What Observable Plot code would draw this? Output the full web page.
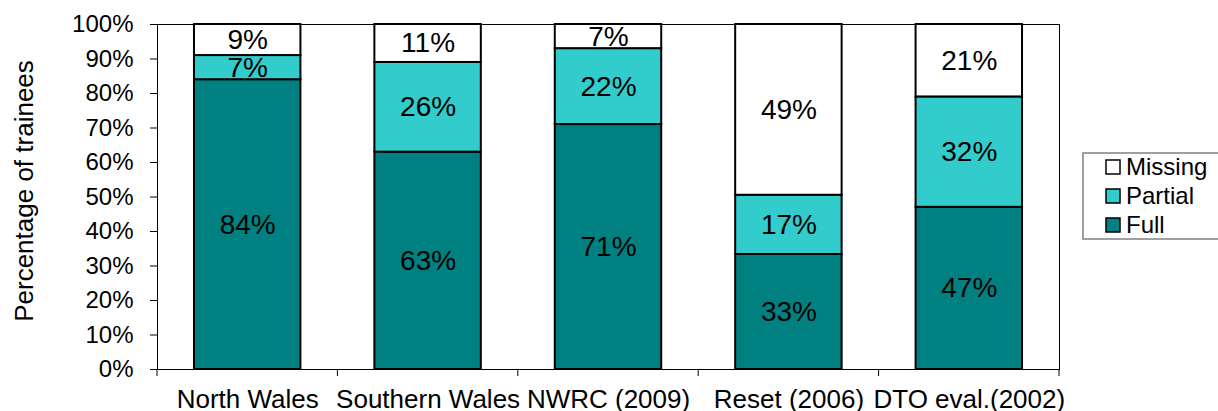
<!DOCTYPE html>
<html>
<head>
<meta charset="utf-8">
<script src="https://cdn.jsdelivr.net/npm/d3@7"></script>
<script src="https://cdn.jsdelivr.net/npm/@observablehq/plot@0.6"></script>
<style>
  html, body { margin: 0; padding: 0; background: #fff; overflow: hidden; }
  #chart svg { display: block; font-family: "Liberation Sans", Arial, sans-serif; }
</style>
</head>
<body>
<div id="chart"></div>
<script>
const categories = ["North Wales", "Southern Wales", "NWRC (2009)", "Reset (2006)", "DTO eval.(2002)"];
const seriesNames = ["Full", "Partial", "Missing"];
const fullValues = [84, 63, 71, 33, 47];
const partialValues = [7, 26, 22, 17, 32];
const missingValues = [9, 11, 7, 49, 21];
const seriesColors = ["#008080", "#33CCCC", "#FFFFFF"];
const yTicks = [0, 10, 20, 30, 40, 50, 60, 70, 80, 90, 100];
const yLabel = "Percentage of trainees";

const valuesBySeries = [fullValues, partialValues, missingValues];
const rows = [];
categories.forEach((c, i) => {
  seriesNames.forEach((s, j) => rows.push({category: c, series: s, value: valuesBySeries[j][i]}));
});

const stackOpts = {x: "category", y: "value", z: "series", order: seriesNames, offset: "normalize"};
const FONT = "Liberation Sans, Arial, sans-serif";

const plot = Plot.plot({
  width: 1218,
  height: 411,
  marginLeft: 157,
  marginRight: 159,
  marginTop: 24,
  marginBottom: 42,
  style: {fontFamily: FONT, background: "#fff", color: "#000"},
  x: {domain: categories, paddingInner: 0.41, paddingOuter: 0.205, round: false},
  y: {domain: [0, 100], percent: true},
  color: {domain: seriesNames, range: seriesColors},
  marks: [
    Plot.gridY(yTicks, {stroke: "#000", strokeOpacity: 1, strokeWidth: 1}),
    Plot.frame({stroke: "#000", strokeWidth: 1}),
    Plot.barY(rows, Plot.stackY({...stackOpts, fill: "series", stroke: "#000", strokeWidth: 2})),
    Plot.text(rows, Plot.stackY({...stackOpts, text: d => d.value + "%", fontSize: 28, fill: "#000", fontFamily: FONT})),
    Plot.axisY({ticks: yTicks, tickFormat: d => d + "%", tickSize: 7, tickPadding: 17, fontSize: 24, label: null, stroke: "#000"}),
    Plot.axisX({tickSize: 0, tickPadding: 20, fontSize: 26, label: null}),
    Plot.text([yLabel], {frameAnchor: "left", textAnchor: "middle", lineAnchor: "middle", rotate: -90, dx: -133, dy: -6, fontSize: 26, fill: "#000", fontFamily: FONT})
  ]
});

document.getElementById("chart").appendChild(plot);

// Category boundary tick marks on the x axis, from the plot's own band scale
const xs = plot.scale("x");
const ys = plot.scale("y");
const gap = (xs.step - xs.bandwidth) / 2;
const bounds = categories.map(c => xs.apply(c) - gap);
bounds.push(bounds[bounds.length - 1] + xs.step);
const y0 = ys.apply(0);
const svg = d3.select(plot);
svg.append("g").attr("stroke", "#000").attr("stroke-width", 1)
  .selectAll("line").data(bounds).join("line")
  .attr("x1", d => d).attr("x2", d => d)
  .attr("y1", y0).attr("y2", y0 + 7);

// Legend (Missing, Partial, Full from top)
const legendItems = seriesNames.map((s, i) => ({name: s, color: seriesColors[i]})).reverse();
const lg = svg.append("g").attr("font-family", FONT).attr("font-size", 24).attr("text-anchor", "start");
lg.append("rect").attr("x", 1083).attr("y", 153).attr("width", 150).attr("height", 86)
  .attr("fill", "#fff").attr("stroke", "#808080").attr("stroke-width", 1.5);
const item = lg.selectAll("g.item").data(legendItems).join("g")
  .attr("transform", (d, i) => `translate(1106, ${160 + i * 29})`);
item.append("rect").attr("width", 14).attr("height", 14)
  .attr("fill", d => d.color).attr("stroke", "#000").attr("stroke-width", 1.5);
item.append("text").attr("x", 20).attr("y", 7).attr("dy", "0.35em")
  .attr("text-anchor", "start").attr("fill", "#000").text(d => d.name);
</script>
</body>
</html>
